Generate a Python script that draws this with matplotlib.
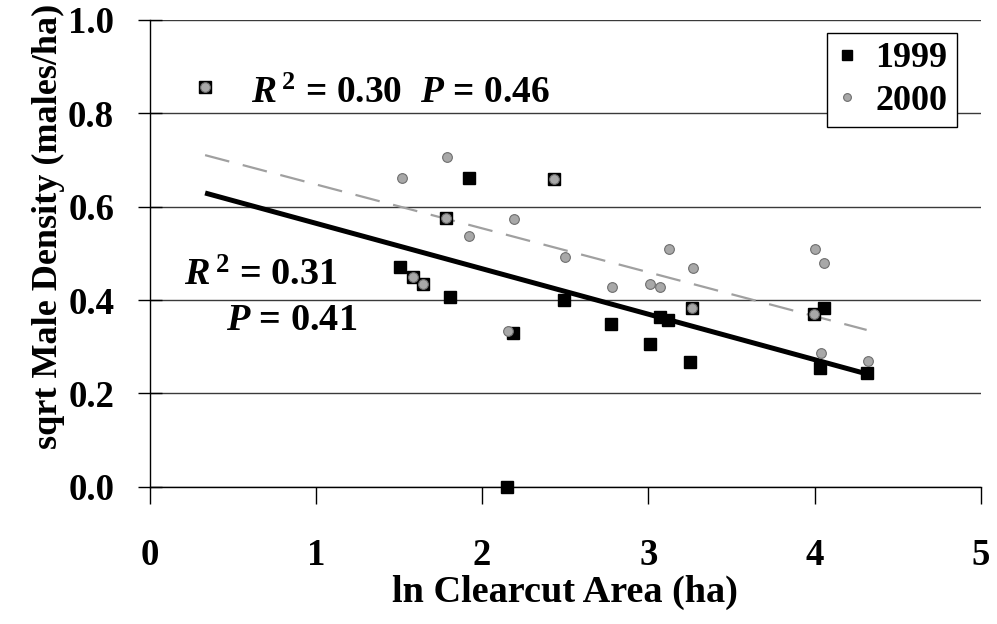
import numpy as np
import matplotlib
matplotlib.use('Agg')
import matplotlib.pyplot as plt

# ============================================================================
# DATA
# ============================================================================

x_1999 = [0.334, 1.92, 1.78, 1.505, 1.584, 1.644, 1.806, 2.43, 2.49, 2.184,
          2.773, 3.068, 3.116, 3.008, 3.26, 3.248, 2.148, 4.053, 3.993, 4.029, 4.312]
y_1999 = [0.856, 0.661, 0.575, 0.471, 0.449, 0.434, 0.406, 0.659, 0.400, 0.329,
          0.349, 0.364, 0.357, 0.306, 0.383, 0.267, 0.000, 0.383, 0.370, 0.255, 0.244]

x_2000 = [0.334, 1.788, 1.517, 1.78, 1.92, 1.584, 1.644, 2.43, 2.19, 2.497,
          3.122, 3.266, 2.779, 3.008, 3.068, 3.26, 2.155, 4.0, 4.053, 3.993, 4.035, 4.318]
y_2000 = [0.856, 0.706, 0.661, 0.575, 0.537, 0.449, 0.434, 0.659, 0.573, 0.492,
          0.509, 0.468, 0.428, 0.434, 0.428, 0.383, 0.334, 0.509, 0.479, 0.370, 0.287, 0.270]

# regression line end points
fit_x = [0.334, 4.312]
fit_1999 = [0.629, 0.242]
fit_2000 = [0.710, 0.336]

x_ticks = [0, 1, 2, 3, 4, 5]
y_ticks = [0.0, 0.2, 0.4, 0.6, 0.8, 1.0]

# ============================================================================
# STYLE
# ============================================================================

plt.rcParams['font.family'] = ['Liberation Serif', 'DejaVu Serif']
plt.rcParams['font.weight'] = 'bold'
plt.rcParams['mathtext.fontset'] = 'custom'
plt.rcParams['mathtext.rm'] = 'Liberation Serif:bold'
plt.rcParams['mathtext.it'] = 'Liberation Serif:italic:bold'
plt.rcParams['mathtext.bf'] = 'Liberation Serif:bold'
plt.rcParams['lines.scale_dashes'] = False

fig = plt.figure(figsize=(9.97, 6.24), dpi=100)
ax = fig.add_axes([0.150, 0.2196, 0.834, 0.749])

# ============================================================================
# PLOT
# ============================================================================

ax.plot(fit_x, fit_2000, color='#a0a0a0', lw=1.6, dashes=(18, 10), zorder=2)
ax.plot(fit_x, fit_1999, color='black', lw=3.6, solid_capstyle='butt', zorder=3)

ax.plot(x_1999, y_1999, 's', color='black', ms=8.5, ls='none', label='1999',
        clip_on=False, zorder=4)
ax.plot(x_2000, y_2000, 'o', mfc='#a8a8a8', mec='#6e6e6e', mew=0.8, ms=7,
        ls='none', label='2000', clip_on=False, zorder=5)

ax.set_xlim(0, 5)
ax.set_ylim(0, 1.0)
ax.set_xticks(x_ticks)
ax.set_yticks(y_ticks)
ax.set_yticklabels([f'{v:.1f}' for v in y_ticks])

ax.grid(axis='y', color='#3a3a3a', lw=1.0)
ax.set_axisbelow(True)
for side in ['top', 'right']:
    ax.spines[side].set_visible(False)
ax.spines['left'].set_linewidth(1.0)
ax.spines['bottom'].set_linewidth(1.0)

ax.tick_params(axis='y', direction='inout', length=17, width=1, labelsize=26.5, pad=17)
ax.tick_params(axis='x', direction='out', length=12, width=1, labelsize=26.5, pad=25)

ax.set_xlabel('ln Clearcut Area (ha)', fontsize=27.5, fontweight='bold')
ax.xaxis.set_label_coords(0.5, -0.188)
ax.set_ylabel('sqrt Male Density (males/ha)', fontsize=26, fontweight='bold')
ax.yaxis.set_label_coords(-0.102, 0.558)

ax.text(0.61, 0.821, r'$R^{\,2}$ = 0.30  $P$ = 0.46', fontsize=27,
        fontweight='bold', va='baseline', ha='left')
ax.text(0.207, 0.432, r'$R^{\,2}$ = 0.31', fontsize=27.5,
        fontweight='bold', va='baseline', ha='left')
ax.text(0.46, 0.336, r'$P$ = 0.41', fontsize=27.5,
        fontweight='bold', va='baseline', ha='left')

leg = ax.legend(loc='upper right', bbox_to_anchor=(0.9706, 0.971), fontsize=26,
                frameon=True, fancybox=False, edgecolor='black', framealpha=1,
                handlelength=0.6, handletextpad=0.5, borderpad=0.25,
                labelspacing=0.25, borderaxespad=0, markerscale=0.8)
leg.get_frame().set_linewidth(1.0)

fig.savefig('out.png', dpi=100)
